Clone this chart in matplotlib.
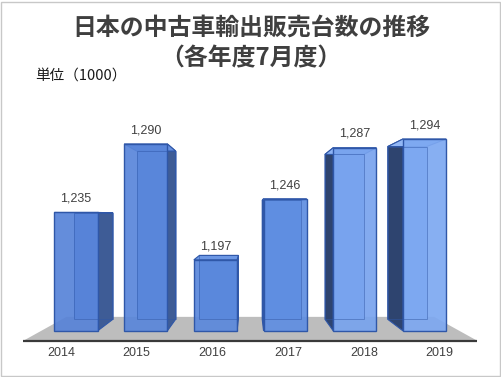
"""
Japan used-car exports per year (July figures), drawn as perspective 3D bars.
"""
import matplotlib
matplotlib.use("Agg")
import matplotlib.pyplot as plt
from matplotlib.patches import Polygon, Rectangle

years = ["2014", "2015", "2016", "2017", "2018", "2019"]
units = [1235, 1290, 1197, 1246, 1287, 1294]
value_labels = ["1,235", "1,290", "1,197", "1,246", "1,287", "1,294"]

title_main = "日本の中古車輸出販売台数の推移"
title_sub = "（各年度7月度）"
unit_note = "単位（1000）"

# scene setup (front plane of the bars is the data plane)
Y_BASE = 1140          # value at the floor
VP = (2.5, 1233)       # vanishing point, data coords
BACK_S = 0.90          # depth scale of the bar backs
FLOOR_FRONT_S = 1.086
FLOOR_BACK_S = 0.879
HALF_W = 0.31

front_colors = ["#5783D8", "#5986DA", "#5A88DC", "#5F8EE1", "#78A3EE", "#7DA8F1"]
top_colors = ["#6690DE", "#6891DF", "#6C97E4", "#6F9AE6", "#8DB3F4", "#92B7F5"]
side_colors = ["#3E5C96", "#3E5C96", "#40609C", "#34507F", "#2E446F", "#2E446F"]
edge_color = "#2F57A8"

plt.rcParams["font.family"] = ["Noto Sans CJK JP", "DejaVu Sans"]


def project(pt, s):
    return (VP[0] + s * (pt[0] - VP[0]), VP[1] + s * (pt[1] - VP[1]))


fig = plt.figure(figsize=(5.02, 3.77), dpi=100)
ax = fig.add_axes([0, 0, 1, 1])
ax.set_xlim(-1.09, 6.11)
ax.set_ylim(1103, 1405.5)
ax.axis("off")

# floor
fx0, fx1 = -0.5, len(years) - 0.5
floor = [project((fx0, Y_BASE), FLOOR_FRONT_S), project((fx1, Y_BASE), FLOOR_FRONT_S),
         project((fx1, Y_BASE), FLOOR_BACK_S), project((fx0, Y_BASE), FLOOR_BACK_S)]
ax.add_patch(Polygon(floor, closed=True, facecolor="#BDBDBD", edgecolor="none", zorder=1))
ax.plot([floor[0][0], floor[1][0]], [floor[0][1], floor[1][1]], color="#3A3A3A", lw=1.6,
        solid_capstyle="butt", zorder=2)

for i, (yr, v, lab) in enumerate(zip(years, units, value_labels)):
    x0, x1 = i - HALF_W, i + HALF_W
    front = [(x0, Y_BASE), (x1, Y_BASE), (x1, v), (x0, v)]
    back = [project(p, BACK_S) for p in front]
    z = 3 + i * 0.01

    ax.add_patch(Polygon(back, closed=True, facecolor=front_colors[i], edgecolor="none", zorder=z))
    if x1 < VP[0]:
        side = [front[1], front[2], back[2], back[1]]
    elif x0 > VP[0]:
        side = [front[0], front[3], back[3], back[0]]
    else:
        side = None
    if side:
        ax.add_patch(Polygon(side, closed=True, facecolor=side_colors[i], edgecolor=edge_color,
                             lw=0.8, zorder=z + 0.001))
    top = [front[3], front[2], back[2], back[3]]
    ax.add_patch(Polygon(top, closed=True, facecolor=top_colors[i], edgecolor=edge_color,
                         lw=0.8, zorder=z + 0.002))
    ax.add_patch(Polygon(front, closed=True, facecolor=front_colors[i], edgecolor="none",
                         alpha=0.92, zorder=z + 0.003))
    # back edges seen through the front face
    ax.add_patch(Polygon(back, closed=True, facecolor="none", edgecolor=edge_color,
                         lw=0.7, alpha=0.5, zorder=z + 0.004))
    ax.add_patch(Polygon(front, closed=True, facecolor="none", edgecolor=edge_color,
                         lw=1.0, zorder=z + 0.005))

    ax.text(i, v + 11, lab, ha="center", va="center", fontsize=9,
            family="Liberation Sans", color="#404040", zorder=10)
    lx, _ = project((i, Y_BASE), FLOOR_FRONT_S)
    ax.text(lx, 1122.3, yr, ha="center", va="center", fontsize=9,
            family="Liberation Sans", color="#404040", zorder=10)

fig.text(0.5, 1 - 28 / 377, title_main, ha="center", va="center", fontsize=17.2,
         fontweight="bold", color="#3F3F3F")
fig.text(0.5, 1 - 58 / 377, title_sub, ha="center", va="center", fontsize=17.2,
         fontweight="bold", color="#3F3F3F")
fig.text(35 / 502, 1 - 76 / 377, unit_note, ha="left", va="center", fontsize=10.5,
         color="#1A1A1A")

fig.patches.append(Rectangle((0.002, 0.003), 0.995, 0.993, transform=fig.transFigure,
                             facecolor="none", edgecolor="#C8C8C8", lw=1.0))

fig.savefig("out.png", dpi=100, facecolor="white")
